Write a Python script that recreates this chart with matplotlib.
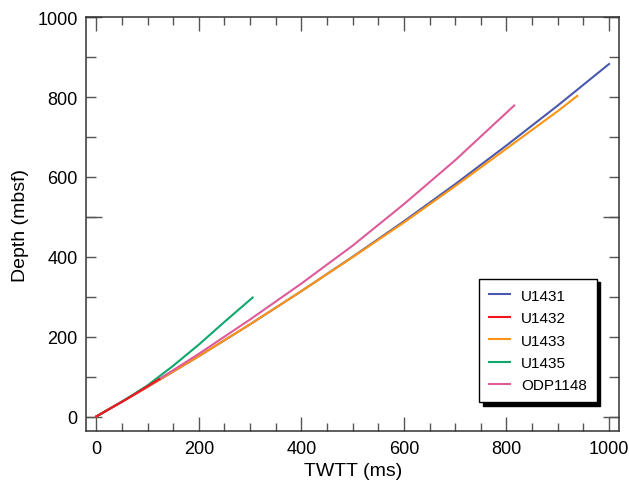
import matplotlib.pyplot as plt
from matplotlib.ticker import MultipleLocator, FixedLocator, NullFormatter

plt.rcParams['font.family'] = ['Liberation Sans', 'DejaVu Sans']

# TWTT (ms) / depth (mbsf)
u1431_t = [0, 100, 200, 300, 400, 500, 600, 700, 800, 900, 1000]
u1431_d = [0, 74, 151, 231, 314, 400, 489, 582, 679, 779, 883]

u1432_t = [0, 60, 123]
u1432_d = [0, 44, 94]

u1433_t = [0, 100, 200, 300, 400, 500, 600, 700, 800, 900, 938]
u1433_d = [0, 74, 151, 231, 314, 399, 486, 577, 671, 765, 803]

u1435_t = [0, 50, 100, 150, 200, 250, 305]
u1435_d = [0, 37, 78, 127, 180, 237, 298]

odp1148_t = [0, 100, 200, 300, 400, 500, 600, 700, 815]
odp1148_d = [0, 75, 157, 243, 333, 428, 532, 642, 779]

names = ["U1431", "U1432", "U1433", "U1435", "ODP1148"]
colors = ["#4a59ad", "#f5141e", "#ff9412", "#0fa86c", "#de5b9b"]
zorders = [2, 6, 3, 5, 4]
series = [(u1431_t, u1431_d), (u1432_t, u1432_d), (u1433_t, u1433_d),
          (u1435_t, u1435_d), (odp1148_t, odp1148_d)]

fig = plt.figure(figsize=(6.29, 4.85), dpi=100)
ax = fig.add_axes([0.1367, 0.1087, 0.8479, 0.8536])

for (t, d), name, c, z in zip(series, names, colors, zorders):
    ax.plot(t, d, color=c, lw=1.5, label=name, zorder=z)

ax.set_xlim(-20, 1020)
ax.set_ylim(-37, 1000)

ax.xaxis.set_major_locator(MultipleLocator(200))
ax.xaxis.set_minor_locator(MultipleLocator(50))
ax.yaxis.set_major_locator(MultipleLocator(200))
ax.yaxis.set_minor_locator(MultipleLocator(100))

ax.tick_params(which="both", direction="in", top=True, right=True,
               color="#555555", labelsize=13, width=1)
ax.tick_params(axis="x", which="major", length=10, pad=6)
ax.tick_params(axis="x", which="minor", length=6)
ax.tick_params(axis="y", which="both", length=7, pad=6)

# longer ticks at 0, 500, 1000 on both sides
for side in ["left", "right"]:
    sec = ax.secondary_yaxis(side)
    sec.yaxis.set_major_locator(FixedLocator([0, 500, 1000]))
    sec.yaxis.set_major_formatter(NullFormatter())
    sec.yaxis.set_minor_locator(FixedLocator([]))
    sec.tick_params(direction="in", length=11.5, color="#555555", width=1)
    sec.spines[side].set_visible(False)

for s in ax.spines.values():
    s.set_color("#333333")
    s.set_linewidth(1.1)

ax.set_xlabel("TWTT (ms)", fontsize=14, labelpad=4)
ax.set_ylabel("Depth (mbsf)", fontsize=14, labelpad=6)

leg = ax.legend(loc="lower right", bbox_to_anchor=(0.958, 0.070),
                borderaxespad=0, fontsize=11, frameon=True, fancybox=False,
                edgecolor="black", framealpha=1, handlelength=1.4,
                handletextpad=0.7, labelspacing=0.55, borderpad=0.65,
                shadow={"color": "black", "alpha": 1, "ox": 2.5, "oy": -2.5})
leg.get_frame().set_linewidth(1.0)

plt.savefig("out.png", dpi=100)
